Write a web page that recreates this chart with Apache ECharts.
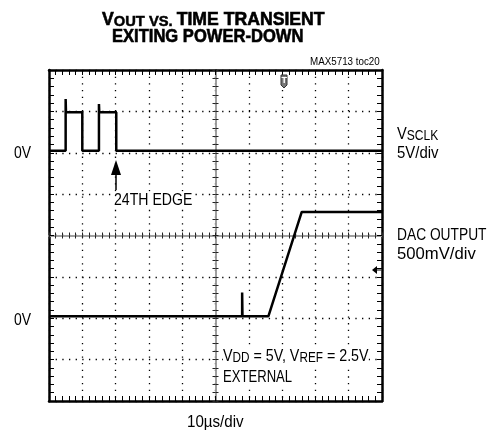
<!DOCTYPE html>
<html>
<head>
<meta charset="utf-8">
<script src="https://cdn.jsdelivr.net/npm/echarts@6/dist/echarts.min.js"></script>
<style>
  html, body { margin: 0; padding: 0; background: #fff; }
  #chart { width: 492px; height: 435px; }
</style>
</head>
<body>
<div id="chart"></div>
<script>
// time in us (10us/div), vertical in screen divisions (8 div)
var sclkTime = [0, 5, 5, 5.1, 10, 10, 15, 15, 15.1, 20.2, 20.2, 100];
var sclkLevel = [6.05, 6.05, 7.3, 6.98, 6.98, 6.05, 6.05, 7.18, 6.98, 6.98, 6.05, 6.05];
var dacTime = [0, 58, 58, 58.1, 65.9, 75.9, 100];
var dacLevel = [2.05, 2.05, 2.62, 2.05, 2.05, 4.57, 4.57];
var xTicks = [0, 100, 10];   // min, max, interval
var yTicks = [0, 8, 1];

var FONT = "'Liberation Sans', Arial, sans-serif";

function pairs(xs, ys) {
    var out = [];
    for (var i = 0; i < xs.length; i++) {
        out.push([xs[i], ys[i]]);
    }
    return out;
}

var G = { left: 49, top: 70, width: 333, height: 331 };

// 边框刻度
function frameAxis(gridIndex, position, split, ticks) {
    return {
        type: 'value', gridIndex: gridIndex, position: position,
        min: ticks[0], max: ticks[1], interval: ticks[2],
        axisLine: { show: true, onZero: false, lineStyle: { color: '#000', width: 2.5 } },
        axisTick: { show: true, inside: true, length: 5, lineStyle: { color: '#000', width: 1 } },
        minorTick: { show: true, splitNumber: 5, length: 5, lineStyle: { color: '#000', width: 1 } },
        axisLabel: { show: false },
        splitLine: {
            show: split,
            lineStyle: { color: '#000', width: 1.3, type: [1.3, 5.36] }
        }
    };
}
// 中心十字刻度
function centerAxis(gridIndex, position, ticks) {
    return {
        type: 'value', gridIndex: gridIndex, position: position,
        min: ticks[0], max: ticks[1], interval: ticks[2],
        axisLine: { show: true, onZero: false, lineStyle: { color: '#999', width: 1.5 } },
        axisTick: { show: true, inside: true, length: 3, lineStyle: { color: '#222', width: 1 } },
        minorTick: { show: true, splitNumber: 5, length: 3, lineStyle: { color: '#222', width: 1 } },
        axisLabel: { show: false },
        splitLine: { show: false }
    };
}
function hiddenAxis(gridIndex, ticks) {
    return {
        type: 'value', gridIndex: gridIndex, min: ticks[0], max: ticks[1],
        show: false
    };
}

// 文字 (x, y = left edge, vertical middle)
function label(x, y, text, size, sx, extra) {
    var style = {
        text: text, fontFamily: FONT, fontSize: size, fill: '#000',
        align: 'left', verticalAlign: 'middle'
    };
    for (var k in extra) style[k] = extra[k];
    return { type: 'text', x: x, y: y, scaleX: sx, z: 20, style: style };
}

var halfH = G.height / 2, halfW = G.width / 2;

var chart = echarts.init(document.getElementById('chart'), null, { renderer: 'canvas' });

var subRich = function (big, small) {
    return {
        a: { fontFamily: FONT, fontSize: big, fill: '#000', verticalAlign: 'bottom', lineHeight: big + 3 },
        s: { fontFamily: FONT, fontSize: small, fill: '#000', verticalAlign: 'bottom', lineHeight: small + 1 }
    };
};

var option = {
    animation: false,
    backgroundColor: '#fff',
    grid: [
        { left: G.left, top: G.top, width: G.width, height: G.height },
        { left: G.left, top: G.top, width: G.width, height: halfH },
        { left: G.left, top: G.top + halfH, width: G.width, height: halfH },
        { left: G.left, top: G.top, width: halfW, height: G.height },
        { left: G.left + halfW, top: G.top, width: halfW, height: G.height }
    ],
    xAxis: [
        frameAxis(0, 'bottom', true, xTicks),
        frameAxis(0, 'top', false, xTicks),
        centerAxis(1, 'bottom', xTicks),
        centerAxis(2, 'top', xTicks),
        hiddenAxis(3, [0, 50]),
        hiddenAxis(4, [50, 100])
    ],
    yAxis: [
        frameAxis(0, 'left', true, yTicks),
        frameAxis(0, 'right', false, yTicks),
        hiddenAxis(1, [4, 8]),
        hiddenAxis(2, [0, 4]),
        centerAxis(3, 'right', yTicks),
        centerAxis(4, 'left', yTicks)
    ],
    series: [
        {
            name: 'VSCLK', type: 'line', xAxisIndex: 0, yAxisIndex: 0,
            data: pairs(sclkTime, sclkLevel), showSymbol: false, z: 10,
            lineStyle: { color: '#000', width: 2.5 }
        },
        {
            name: 'DAC OUTPUT', type: 'line', xAxisIndex: 0, yAxisIndex: 0,
            data: pairs(dacTime, dacLevel), showSymbol: false, z: 10,
            lineStyle: { color: '#000', width: 2.5 }
        }
    ],
    graphic: [
        // title
        label(102, 19.5, '{a|V}{s|OUT}{b| VS. }{a|TIME TRANSIENT}', 18, 0.98, {
            rich: {
                a: { fontFamily: FONT, fontWeight: 'bold', fontSize: 18, fill: '#000', stroke: '#000', lineWidth: 0.6, verticalAlign: 'bottom', lineHeight: 20 },
                s: { fontFamily: FONT, fontWeight: 'bold', fontSize: 15, fill: '#000', stroke: '#000', lineWidth: 0.5, verticalAlign: 'bottom', lineHeight: 17 },
                b: { fontFamily: FONT, fontWeight: 'bold', fontSize: 15, fill: '#000', stroke: '#000', lineWidth: 0.5, verticalAlign: 'bottom', lineHeight: 20 }
            }
        }),
        label(112, 37, 'EXITING POWER-DOWN', 18, 0.92, { fontWeight: 'bold', stroke: '#000', lineWidth: 0.6 }),
        label(310, 62, 'MAX5713 toc20', 10, 0.98, {}),
        label(14, 153, '0V', 17, 0.82, {}),
        label(14, 320, '0V', 17, 0.82, {}),
        label(397, 133, '{a|V}{s|SCLK}', 17, 0.86, { rich: subRich(17, 14) }),
        label(397, 153, '5V/div', 17, 0.88, {}),
        label(397, 235, 'DAC OUTPUT', 17, 0.81, {}),
        label(397, 254, '500mV/div', 17, 0.98, {}),
        label(114, 200, '24TH EDGE', 17, 0.83, { backgroundColor: '#fff' }),
        label(223, 355, '{a|V}{s|DD}{a| = 5V, V}{s|REF}{a| = 2.5V}', 17, 0.84, { rich: subRich(17, 14), backgroundColor: '#fff' }),
        label(223, 377, 'EXTERNAL', 17, 0.77, { backgroundColor: '#fff' }),
        label(187, 422, '10µs/div', 17, 0.89, {}),
        // 24th edge arrow
        {
            type: 'line', z: 20,
            shape: { x1: 116, y1: 172, x2: 116, y2: 190 },
            style: { stroke: '#000', lineWidth: 1.5 }
        },
        {
            type: 'polygon', z: 20,
            shape: { points: [[116, 160], [111, 175], [121, 175]] },
            style: { fill: '#000' }
        },
        // trigger marker
        {
            type: 'polygon', z: 20,
            shape: { points: [[281, 75], [287, 75], [287, 85], [284, 88], [281, 85]] },
            style: { fill: '#777', stroke: '#333', lineWidth: 1 }
        },
        label(281.6, 80.5, 'T', 9, 1, { fontWeight: 'bold', fill: '#fff' }),
        // ground marker at right
        {
            type: 'polygon', z: 20,
            shape: { points: [[372, 270], [377, 266], [377, 274]] },
            style: { fill: '#000' }
        },
        {
            type: 'line', z: 20,
            shape: { x1: 376, y1: 270, x2: 381, y2: 270 },
            style: { stroke: '#000', lineWidth: 1 }
        }
    ]
};

chart.setOption(option);
</script>
</body>
</html>
